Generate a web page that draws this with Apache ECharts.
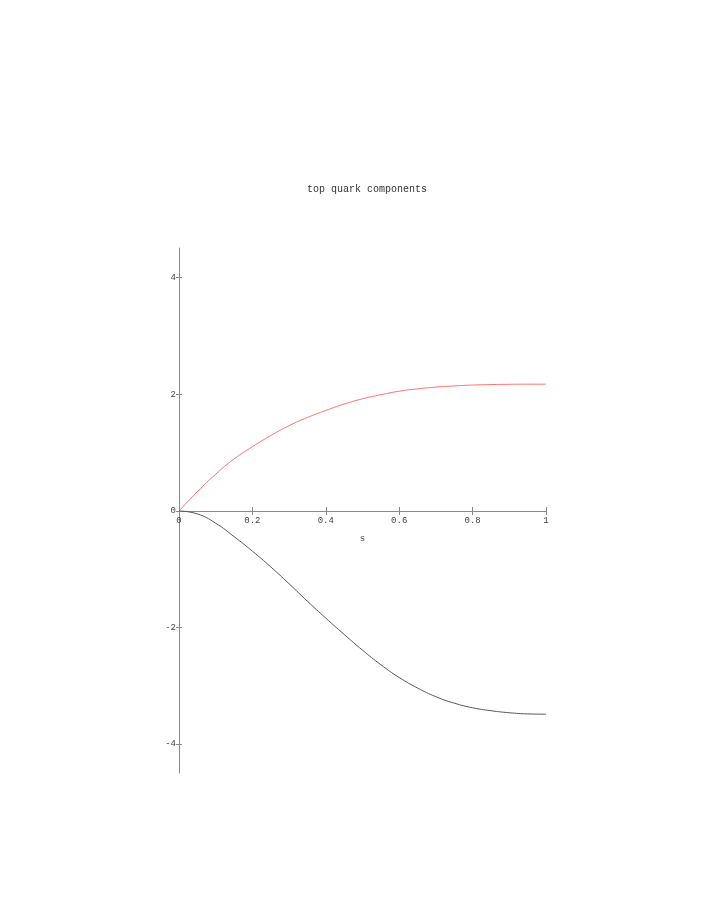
<!DOCTYPE html>
<html>
<head>
<meta charset="utf-8">
<script src="https://cdn.jsdelivr.net/npm/echarts@6/dist/echarts.min.js"></script>
<style>
  html, body { margin: 0; padding: 0; background: #fff; }
  #chart { width: 708px; height: 917px; }
</style>
</head>
<body>
<div id="chart"></div>
<script>
// s values and the two components
const sValues = [0, 0.05, 0.1, 0.15, 0.2, 0.25, 0.3, 0.35, 0.4, 0.45, 0.5,
                 0.55, 0.6, 0.65, 0.7, 0.75, 0.8, 0.85, 0.9, 0.95, 1];
const redComp = [0, 0.33, 0.63, 0.89, 1.10, 1.29, 1.46, 1.60, 1.72, 1.83, 1.92,
                 1.99, 2.05, 2.09, 2.12, 2.14, 2.155, 2.163, 2.168, 2.17, 2.17];
const blackComp = [0, -0.05, -0.21, -0.44, -0.69, -0.96, -1.25, -1.55, -1.84, -2.12, -2.39,
                   -2.64, -2.86, -3.04, -3.19, -3.30, -3.38, -3.43, -3.465, -3.485, -3.49];
const xTicks = [0, 0.2, 0.4, 0.6, 0.8, 1];
const yTicksUpper = [0, 2, 4];
const yTicksLower = [-4, -2];

const font = '"Liberation Mono", "DejaVu Sans Mono", monospace';
const axisColor = '#8a8a8a';
const labelColor = '#444';

const pairs = (ys) => sValues.map((s, i) => [s, ys[i]]);

// upper half (0..4.5) and lower half (-4.5..0) share the s axis at y = 0
const xBase = {
  type: 'value', min: 0, max: 1, interval: 0.2,
  splitLine: { show: false }
};
const yBase = {
  type: 'value', interval: 0.5,
  splitLine: { show: false }
};

const chart = echarts.init(document.getElementById('chart'));
chart.setOption({
  animation: false,
  title: {
    text: 'top quark components',
    left: 362,
    top: 179,
    textAlign: 'center',
    textStyle: { fontFamily: font, fontSize: 10, fontWeight: 'normal', color: '#333' }
  },
  grid: [
    { left: 179, right: 162, top: 248, bottom: 406 },
    { left: 179, right: 162, top: 511, bottom: 144 }
  ],
  xAxis: [
    Object.assign({}, xBase, {
      gridIndex: 0, position: 'bottom',
      name: 's', nameLocation: 'middle', nameGap: 23,
      nameTextStyle: { fontFamily: font, fontSize: 9, color: labelColor },
      axisLine: { onZero: false, lineStyle: { color: axisColor } },
      axisTick: { inside: true, length: 4, customValues: xTicks, lineStyle: { color: axisColor } },
      axisLabel: { fontFamily: font, fontSize: 9, color: labelColor, margin: 5,
                   customValues: xTicks, formatter: v => String(v) }
    }),
    Object.assign({}, xBase, {
      gridIndex: 1, position: 'top',
      axisLine: { show: false, onZero: false },
      axisTick: { inside: true, length: 4, customValues: xTicks, lineStyle: { color: axisColor } },
      axisLabel: { show: false }
    })
  ],
  yAxis: [
    Object.assign({}, yBase, {
      gridIndex: 0, min: 0, max: 4.5,
      axisLine: { show: true, onZero: false, lineStyle: { color: axisColor } },
      axisTick: { show: true, length: 3, customValues: yTicksUpper, lineStyle: { color: axisColor } },
      axisLabel: { fontFamily: font, fontSize: 9, color: labelColor, margin: 3,
                   customValues: yTicksUpper }
    }),
    Object.assign({}, yBase, {
      gridIndex: 0, min: 0, max: 4.5, position: 'left',
      axisLine: { show: false, onZero: false },
      axisTick: { show: true, inside: true, length: 3, customValues: yTicksUpper,
                  lineStyle: { color: axisColor } },
      axisLabel: { show: false }
    }),
    Object.assign({}, yBase, {
      gridIndex: 1, min: -4.5, max: 0,
      axisLine: { show: true, onZero: false, lineStyle: { color: axisColor } },
      axisTick: { show: true, length: 3, customValues: yTicksLower, lineStyle: { color: axisColor } },
      axisLabel: { fontFamily: font, fontSize: 9, color: labelColor, margin: 3,
                   customValues: yTicksLower }
    }),
    Object.assign({}, yBase, {
      gridIndex: 1, min: -4.5, max: 0, position: 'left',
      axisLine: { show: false, onZero: false },
      axisTick: { show: true, inside: true, length: 3, customValues: yTicksLower,
                  lineStyle: { color: axisColor } },
      axisLabel: { show: false }
    })
  ],
  series: [
    {
      type: 'line', xAxisIndex: 0, yAxisIndex: 0, clip: false,
      data: pairs(redComp), smooth: true, showSymbol: false,
      lineStyle: { color: '#ff7070', width: 1 }
    },
    {
      type: 'line', xAxisIndex: 1, yAxisIndex: 2, clip: false,
      data: pairs(blackComp), smooth: true, showSymbol: false,
      lineStyle: { color: '#555', width: 1 }
    }
  ]
});
</script>
</body>
</html>
